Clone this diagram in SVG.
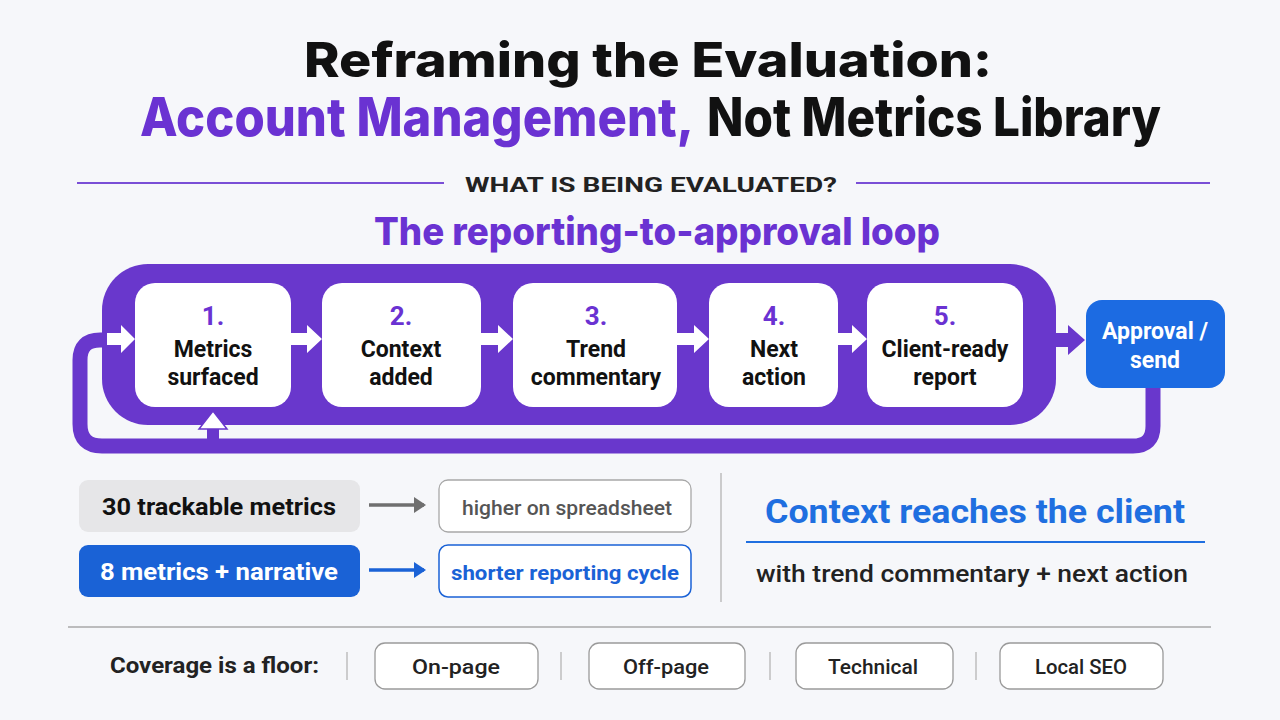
<svg xmlns="http://www.w3.org/2000/svg" width="1280" height="720" viewBox="0 0 1280 720">
<style>
.t{font-family:Inter,"Liberation Sans",sans-serif;font-weight:800}
.r{font-family:Roboto,"Liberation Sans",sans-serif}
.num{font-family:Roboto,"Liberation Sans",sans-serif;font-weight:700;font-size:26px;fill:#6a32d2;text-anchor:middle}
.lbl{font-family:Roboto,"Liberation Sans",sans-serif;font-weight:700;font-size:23px;fill:#111;text-anchor:middle}
.box{fill:#ffffff}
.warr{fill:#ffffff}
.pill{fill:#ffffff;stroke:#9a9a9a;stroke-width:1.3}
.sep{stroke:#b5b5b5;stroke-width:1.3}
.ptxt{font-family:Roboto,"Liberation Sans",sans-serif;font-weight:500;font-size:21px;fill:#222;text-anchor:middle}
</style>
<defs>
<marker id="ag" markerWidth="14" markerHeight="16" refX="10" refY="8" orient="auto" markerUnits="userSpaceOnUse"><path d="M0,0 L12,8 L0,16 Z" fill="#6f6f6f"/></marker>
<marker id="ab" markerWidth="14" markerHeight="16" refX="10" refY="8" orient="auto" markerUnits="userSpaceOnUse"><path d="M0,0 L12,8 L0,16 Z" fill="#1a62d6"/></marker>
</defs>
<rect width="1280" height="720" fill="#f6f7fa"/>

<g id="title">
<text class="t" x="648" y="77" font-size="48" fill="#111" text-anchor="middle" textLength="688" lengthAdjust="spacingAndGlyphs">Reframing the Evaluation:</text>
<text class="t" x="140" y="136" font-size="53" fill="#6a32d2" textLength="554" lengthAdjust="spacingAndGlyphs">Account Management,</text>
<text class="t" x="707" y="136" font-size="53" fill="#111" textLength="454" lengthAdjust="spacingAndGlyphs">Not Metrics Library</text>
</g>

<g id="section-header">
<line x1="77" y1="183" x2="444" y2="183" stroke="#7a4fd6" stroke-width="2"/>
<line x1="856" y1="183" x2="1210" y2="183" stroke="#7a4fd6" stroke-width="2"/>
<text class="r" x="465" y="192" font-size="20" font-weight="700" fill="#222" textLength="372" lengthAdjust="spacingAndGlyphs">WHAT IS BEING EVALUATED?</text>
<text class="t" x="374" y="245" font-size="38" font-weight="700" fill="#6a32d2" textLength="566" lengthAdjust="spacingAndGlyphs">The reporting-to-approval loop</text>
</g>

<g id="loop-band">
<rect x="102" y="264" width="954" height="161" rx="46" fill="#6937cc"/>
</g>

<g id="connectors">
<path d="M1153 388 V426 Q1153 446 1133 446 H102 Q80 446 80 424 V360 Q80 340 100 340 H108" fill="none" stroke="#6937cc" stroke-width="15"/>
<polygon class="warr" points="107,333 121,333 121,325 135,339 121,353 121,345 107,345"/>
<polygon class="warr" points="291,333 307,333 307,325 322,339 307,353 307,345 291,345"/>
<polygon class="warr" points="481,333 498,333 498,325 513,339 498,353 498,345 481,345"/>
<polygon class="warr" points="677,333 694,333 694,325 709,339 694,353 694,345 677,345"/>
<polygon class="warr" points="838,333 852,333 852,325 867,339 852,353 852,345 838,345"/>
<polygon points="1054,333 1068,333 1068,325 1085,340 1068,355 1068,347 1054,347" fill="#6937cc"/>
<rect x="207" y="424" width="12" height="18" fill="#6937cc"/>
<polygon points="213,411 227,429 199,429" fill="#ffffff" stroke="#6937cc" stroke-width="1.5"/>
<line x1="369" y1="505" x2="424" y2="505" stroke="#6f6f6f" stroke-width="3.5" marker-end="url(#ag)"/>
<line x1="369" y1="570" x2="424" y2="570" stroke="#1a62d6" stroke-width="3.5" marker-end="url(#ab)"/>
</g>

<g id="step1">
<rect class="box" x="135" y="283" width="156" height="124" rx="20"/>
<text class="num" x="213" y="325">1.</text>
<text class="lbl" x="213" y="357">Metrics</text>
<text class="lbl" x="213" y="385">surfaced</text>
</g>
<g id="step2">
<rect class="box" x="322" y="283" width="159" height="124" rx="20"/>
<text class="num" x="401" y="325">2.</text>
<text class="lbl" x="401" y="357">Context</text>
<text class="lbl" x="401" y="385">added</text>
</g>
<g id="step3">
<rect class="box" x="513" y="283" width="164" height="124" rx="20"/>
<text class="num" x="596" y="325">3.</text>
<text class="lbl" x="596" y="357">Trend</text>
<text class="lbl" x="596" y="385">commentary</text>
</g>
<g id="step4">
<rect class="box" x="709" y="283" width="129" height="124" rx="20"/>
<text class="num" x="774" y="325">4.</text>
<text class="lbl" x="774" y="357">Next</text>
<text class="lbl" x="774" y="385">action</text>
</g>
<g id="step5">
<rect class="box" x="867" y="283" width="156" height="124" rx="20"/>
<text class="num" x="945" y="325">5.</text>
<text class="lbl" x="945" y="357">Client-ready</text>
<text class="lbl" x="945" y="385">report</text>
</g>
<g id="approval">
<rect x="1086" y="300" width="139" height="88" rx="16" fill="#1c6be2"/>
<text class="lbl" x="1155" y="339" style="fill:#fff">Approval /</text>
<text class="lbl" x="1155" y="368" style="fill:#fff">send</text>
</g>

<g id="row1-left">
<rect x="79" y="480" width="281" height="52" rx="9" fill="#e6e6e8"/>
<text class="r" x="219" y="515" font-size="23" font-weight="700" fill="#111" text-anchor="middle" textLength="234" lengthAdjust="spacingAndGlyphs">30 trackable metrics</text>
</g>
<g id="row1-right">
<rect x="439" y="480" width="252" height="52" rx="9" fill="#fff" stroke="#a8a8a8" stroke-width="1.3"/>
<text class="r" x="567" y="515" font-size="20" font-weight="500" fill="#555" text-anchor="middle" textLength="210" lengthAdjust="spacingAndGlyphs">higher on spreadsheet</text>
</g>
<g id="row2-left">
<rect x="79" y="545" width="281" height="52" rx="9" fill="#1a62d6"/>
<text class="r" x="219" y="580" font-size="23" font-weight="700" fill="#fff" text-anchor="middle" textLength="238" lengthAdjust="spacingAndGlyphs">8 metrics + narrative</text>
</g>
<g id="row2-right">
<rect x="439" y="545" width="252" height="52" rx="9" fill="#fff" stroke="#1a62d6" stroke-width="1.5"/>
<text class="r" x="565" y="580" font-size="20" font-weight="700" fill="#1a62d6" text-anchor="middle" textLength="228" lengthAdjust="spacingAndGlyphs">shorter reporting cycle</text>
</g>

<line x1="721" y1="473" x2="721" y2="602" stroke="#bdbdbd" stroke-width="1.5"/>

<g id="context-callout">
<text class="r" x="975" y="523" font-size="33" font-weight="700" fill="#1f6fe0" text-anchor="middle" textLength="420" lengthAdjust="spacingAndGlyphs">Context reaches the client</text>
<line x1="746" y1="542" x2="1205" y2="542" stroke="#1f6fe0" stroke-width="2"/>
<text class="r" x="972" y="582" font-size="24" font-weight="500" fill="#222" text-anchor="middle" textLength="432" lengthAdjust="spacingAndGlyphs">with trend commentary + next action</text>
</g>

<line x1="68" y1="627" x2="1211" y2="627" stroke="#a9a9a9" stroke-width="1.5"/>

<g id="coverage">
<text class="r" x="110" y="673" font-size="22" font-weight="700" fill="#222" textLength="209" lengthAdjust="spacingAndGlyphs">Coverage is a floor:</text>
<line class="sep" x1="347" y1="652" x2="347" y2="680"/>
<line class="sep" x1="561" y1="652" x2="561" y2="680"/>
<line class="sep" x1="770" y1="652" x2="770" y2="680"/>
<line class="sep" x1="976" y1="652" x2="976" y2="680"/>
</g>
<g id="pill-onpage">
<rect class="pill" x="375" y="643" width="163" height="46" rx="10"/>
<text class="ptxt" x="456" y="674" textLength="88" lengthAdjust="spacingAndGlyphs">On-page</text>
</g>
<g id="pill-offpage">
<rect class="pill" x="589" y="643" width="156" height="46" rx="10"/>
<text class="ptxt" x="666" y="674" textLength="86" lengthAdjust="spacingAndGlyphs">Off-page</text>
</g>
<g id="pill-technical">
<rect class="pill" x="796" y="643" width="157" height="46" rx="10"/>
<text class="ptxt" x="873" y="674" textLength="90" lengthAdjust="spacingAndGlyphs">Technical</text>
</g>
<g id="pill-localseo">
<rect class="pill" x="1000" y="643" width="163" height="46" rx="10"/>
<text class="ptxt" x="1081" y="674" textLength="92" lengthAdjust="spacingAndGlyphs">Local SEO</text>
</g>
</svg>
